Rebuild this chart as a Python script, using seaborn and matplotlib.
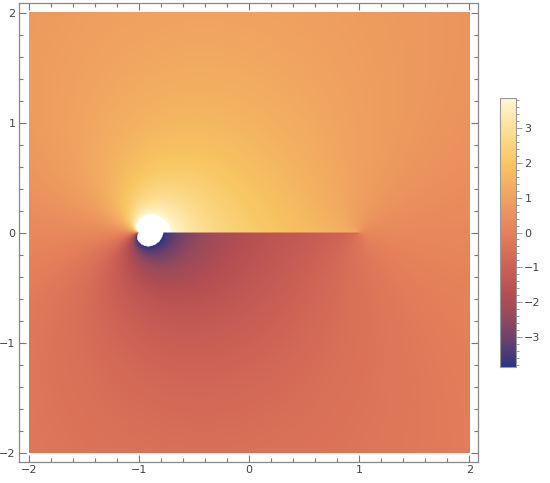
import numpy as np
import matplotlib.pyplot as plt
import seaborn as sns
from matplotlib.colors import LinearSegmentedColormap
from matplotlib.ticker import FixedLocator, MultipleLocator

# plotted region and the slit the field is cut along
x_range = [-2.0, 2.0]
y_range = [-2.0, 2.0]
cut_ends = [-1.0, 1.0]

# field = offset + coef_sqrt * Im sqrt((z-b)/(z-a)) + coef_angle * (subtended angle)/2
coef_sqrt = 1.15
coef_angle = 0.52
offset = 0.25

# colour scale (values outside are left white, as in the reference)
value_range = [-3.85, 3.85]
bar_ticks = [-3, -2, -1, 0, 1, 2, 3]
axis_ticks = [-2, -1, 0, 1, 2]

stop_values = [-3.85, -3.5, -3.0, -2.4, -1.8, -1.0, -0.5, 0.0, 1.0, 2.0, 2.8, 3.35, 3.85]
stop_colors = ['#2b3282', '#4a3a78', '#6e4268', '#964a5c', '#b24e52', '#cc6055',
               '#d97058', '#e5805a', '#f0a260', '#f8c662', '#fcdc8c', '#feeab0', '#fff7d6']


def build_cmap():
    lo, hi = value_range
    pos = [(v - lo) / (hi - lo) for v in stop_values]
    cmap = LinearSegmentedColormap.from_list('density', list(zip(pos, stop_colors)))
    return cmap.with_extremes(over='white', under='white', bad='white')


def compute_field(n=660):
    xs = np.linspace(*x_range, n)
    ys = np.linspace(*y_range, n)
    X, Y = np.meshgrid(xs, ys)
    Z = X + 1j * Y
    ratio = (Z - cut_ends[1]) / (Z - cut_ends[0])
    return offset + coef_sqrt * np.sqrt(ratio).imag + coef_angle * 0.5 * np.angle(ratio)


sns.set_theme(style='ticks')
plt.rcParams['font.family'] = ['DejaVu Sans']

fig = plt.figure(figsize=(5.5, 4.83), dpi=100)
ax = fig.add_axes([19 / 550, 21 / 483, 459 / 550, 459 / 483])

im = ax.imshow(compute_field(), extent=[*x_range, *y_range], origin='lower',
               cmap=build_cmap(), vmin=value_range[0], vmax=value_range[1],
               interpolation='antialiased', aspect='auto')

ax.set_xlim(-2.09, 2.08)
ax.set_ylim(-2.08, 2.09)
for axis in (ax.xaxis, ax.yaxis):
    axis.set_major_locator(FixedLocator(axis_ticks))
    axis.set_minor_locator(MultipleLocator(0.2))
ax.tick_params(which='both', direction='in', top=True, right=True,
               color='#777777', labelcolor='#444444', labelsize=8, pad=2.5, width=0.8)
ax.tick_params(which='major', length=5)
ax.tick_params(which='minor', length=3)
for sp in ax.spines.values():
    sp.set_color('#888888')
    sp.set_linewidth(0.9)

# colour bar legend on the right
cax = fig.add_axes([500 / 550, 116 / 483, 16 / 550, 269 / 483])
cb = fig.colorbar(im, cax=cax, ticks=bar_ticks)
cb.outline.set_edgecolor('#999999')
cb.outline.set_linewidth(0.8)
cax.yaxis.set_minor_locator(MultipleLocator(0.2))
cax.tick_params(which='both', direction='out', color='#999999',
                labelcolor='#444444', labelsize=8, width=0.7)
cax.tick_params(which='major', length=4, pad=2)
cax.tick_params(which='minor', length=2)

fig.savefig('out.png', dpi=100)
